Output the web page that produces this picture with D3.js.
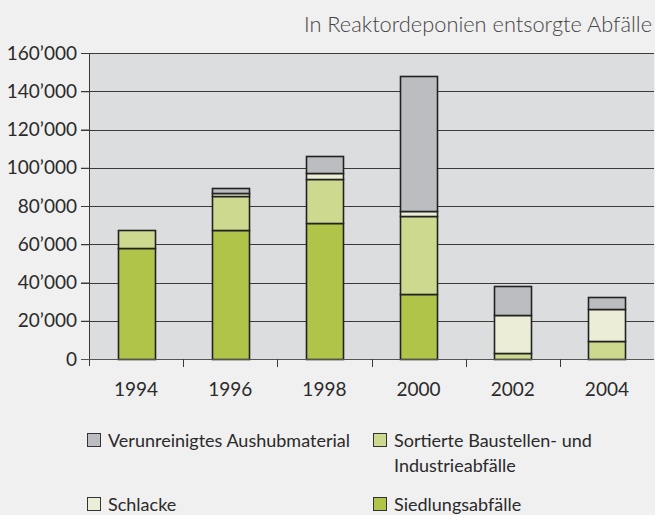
<!DOCTYPE html>
<html>
<head>
<meta charset="utf-8">
<script src="https://cdn.jsdelivr.net/npm/d3@7"></script>
<style>
  body { margin: 0; background: #f0f0f0; }
  svg { font-family: "Lato", "Open Sans", sans-serif; }
</style>
</head>
<body>
<div id="chart"></div>
<script>
// Data
const years = ["1994", "1996", "1998", "2000", "2002", "2004"];
const siedlung   = [58000, 67500, 71000, 34000, 0, 0];
const sortierte  = [9500, 17700, 23000, 41000, 3100, 9600];
const schlacke   = [0, 1400, 3000, 2400, 19700, 16400];
const aushub     = [0, 2800, 9000, 70600, 15200, 6600];
const yTicks = [0, 20000, 40000, 60000, 80000, 100000, 120000, 140000, 160000];

const seriesNames = ["Siedlungsabfälle", "Sortierte Baustellen- und Industrieabfälle", "Schlacke", "Verunreinigtes Aushubmaterial"];
const seriesColors = ["#afc449", "#cdd98f", "#ecedd6", "#bcbdc1"];

const table = years.map((y, i) => ({
    year: y, s0: siedlung[i], s1: sortierte[i], s2: schlacke[i], s3: aushub[i]
}));

const width = 655, height = 515;
const margin = { top: 53, right: 1, bottom: 156, left: 89 };
const innerW = width - margin.left - margin.right;
const innerH = height - margin.top - margin.bottom;

const svg = d3.select("#chart")
    .append("svg")
    .attr("width", width)
    .attr("height", height);

// Title
svg.append("text")
    .attr("x", 652)
    .attr("y", 32)
    .attr("text-anchor", "end")
    .attr("font-size", 21.8)
    .attr("font-weight", 300)
    .attr("fill", "#444")
    .text("In Reaktordeponien entsorgte Abfälle");

const g = svg.append("g")
    .attr("transform", `translate(${margin.left},${margin.top})`);

const x = d3.scaleBand()
    .domain(years)
    .range([0, innerW])
    .paddingInner(0)
    .paddingOuter(0);

const y = d3.scaleLinear()
    .domain([0, 160000])
    .range([innerH, 0]);

// Plot background
g.append("rect")
    .attr("width", innerW)
    .attr("height", innerH)
    .attr("fill", "#dcdddf");

// Gridlines
g.selectAll(".grid")
    .data(yTicks.filter(d => d > 0))
    .enter()
    .append("line")
    .attr("x1", -8)
    .attr("x2", innerW)
    .attr("y1", d => Math.round(y(d)) + 0.5)
    .attr("y2", d => Math.round(y(d)) + 0.5)
    .attr("stroke", "#3a3a3a")
    .attr("stroke-width", 1);

// Stacked bars
const keys = ["s0", "s1", "s2", "s3"];
const stacked = d3.stack().keys(keys)(table);
const barW = 37;

stacked.forEach((layer, li) => {
    g.selectAll(".bar" + li)
        .data(layer.filter(d => d[1] - d[0] > 0))
        .enter()
        .append("rect")
        .attr("x", d => Math.round(x(d.data.year) + x.bandwidth() / 2 - barW / 2) + 0.5)
        .attr("y", d => Math.round(y(d[1])) + 0.5)
        .attr("width", barW)
        .attr("height", d => Math.round(y(d[0])) - Math.round(y(d[1])))
        .attr("fill", seriesColors[li])
        .attr("stroke", "#222")
        .attr("stroke-width", 1.6);
});

// Y axis
const yAxis = g.append("g")
    .call(d3.axisLeft(y)
        .tickValues(yTicks)
        .tickSize(8)
        .tickFormat(d => d === 0 ? "0" : d3.format(",")(d).replace(/,/g, "’")));
yAxis.select(".domain").remove();
yAxis.selectAll(".tick line").attr("stroke", "#3a3a3a");
yAxis.selectAll("text")
    .attr("font-size", 19)
    .attr("fill", "#2a2a2a")
    .attr("x", -12)
    .style("font-family", "Lato, sans-serif");

g.append("line")
    .attr("x1", 0.5).attr("x2", 0.5)
    .attr("y1", 0).attr("y2", innerH + 7)
    .attr("stroke", "#3a3a3a");

// X axis
g.append("line")
    .attr("x1", -8).attr("x2", innerW)
    .attr("y1", innerH + 0.5).attr("y2", innerH + 0.5)
    .attr("stroke", "#555");

g.selectAll(".xtick")
    .data(years.slice(1))
    .enter()
    .append("line")
    .attr("x1", d => Math.round(x(d)) + 0.5)
    .attr("x2", d => Math.round(x(d)) + 0.5)
    .attr("y1", innerH)
    .attr("y2", innerH + 8)
    .attr("stroke", "#3a3a3a");

g.selectAll(".xlabel")
    .data(years)
    .enter()
    .append("text")
    .attr("x", d => x(d) + x.bandwidth() / 2)
    .attr("y", innerH + 37)
    .attr("text-anchor", "middle")
    .attr("font-size", 19)
    .attr("fill", "#2a2a2a")
    .text(d => d);

// Legend
const legendItems = [
    { name: ["Verunreinigtes Aushubmaterial"], color: seriesColors[3], x: 87, y: 433 },
    { name: ["Sortierte Baustellen- und", "Industrieabfälle"], color: seriesColors[1], x: 373, y: 433 },
    { name: ["Schlacke"], color: seriesColors[2], x: 87, y: 497 },
    { name: ["Siedlungsabfälle"], color: seriesColors[0], x: 373, y: 497 }
];

legendItems.forEach(item => {
    svg.append("rect")
        .attr("x", item.x + 0.5)
        .attr("y", item.y + 0.5)
        .attr("width", 13)
        .attr("height", 13)
        .attr("fill", item.color)
        .attr("stroke", "#333")
        .attr("stroke-width", 1);
    item.name.forEach((line, i) => {
        svg.append("text")
            .attr("x", item.x + 21)
            .attr("y", item.y + 14 + i * 25)
            .attr("font-size", 18)
            .attr("fill", "#2a2a2a")
            .text(line);
    });
});
</script>
</body>
</html>
